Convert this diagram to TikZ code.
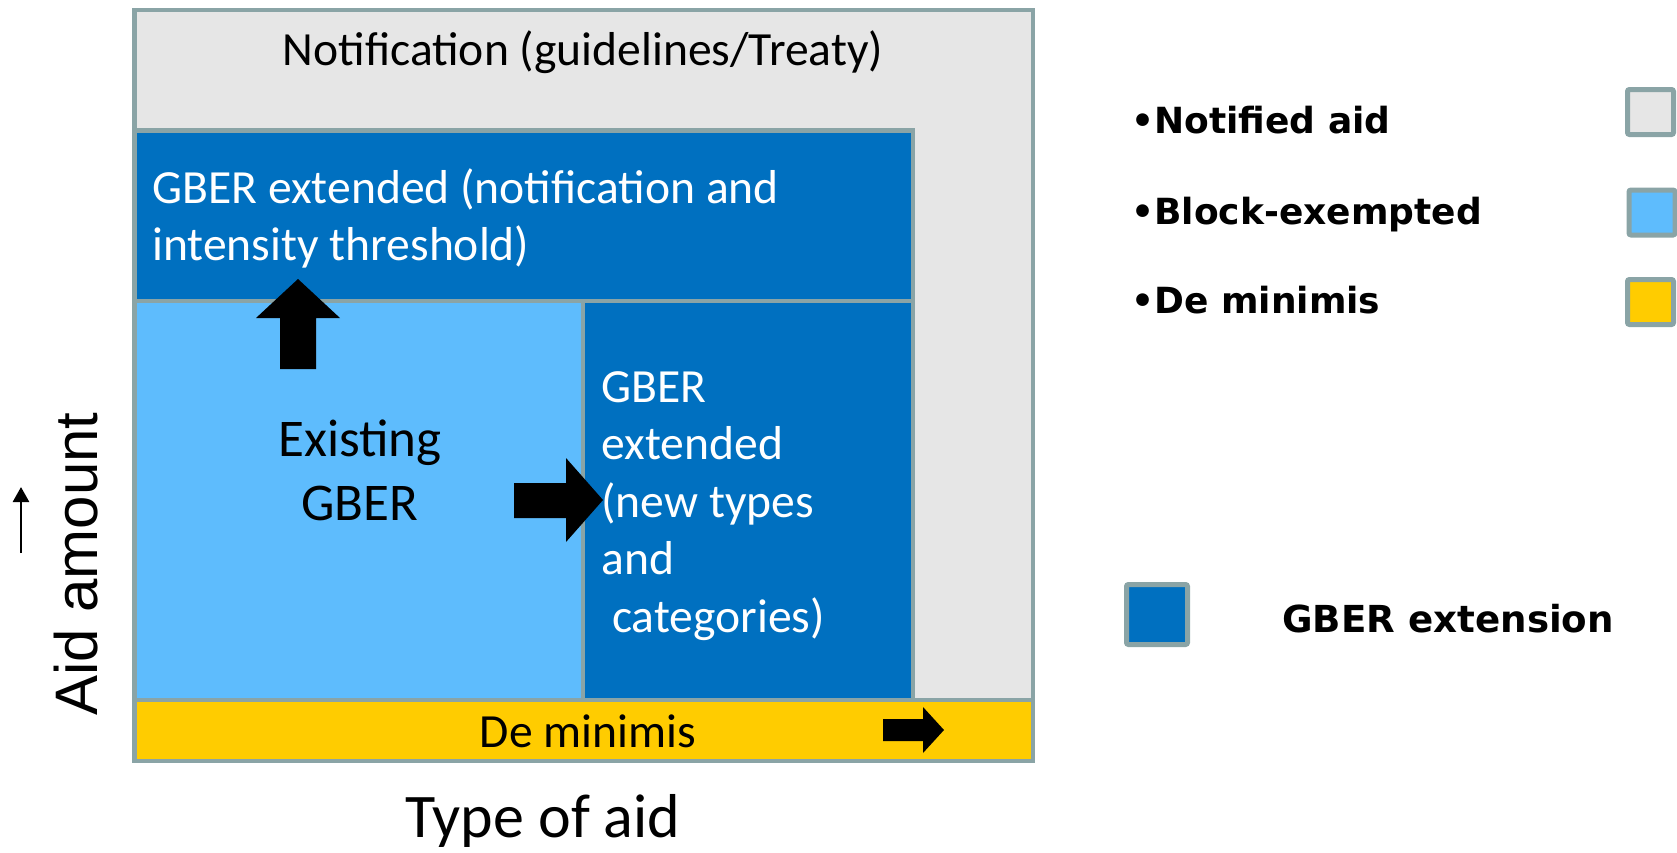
\documentclass[tikz,border=0pt]{standalone}
\usepackage{fontspec}
\setmainfont{Carlito}
\newfontfamily\legendfont{DejaVu Sans}
\newfontfamily\axisfont{Liberation Sans}
\usetikzlibrary{arrows.meta}
\definecolor{frame}{RGB}{138,164,166}
\definecolor{notified}{RGB}{230,230,230}
\definecolor{exempted}{RGB}{94,188,253}
\definecolor{extension}{RGB}{0,112,192}
\definecolor{minimis}{RGB}{255,204,0}

\begin{document}
\begin{tikzpicture}[x=0.5pt, y=-0.5pt,
                    area/.style={draw=frame, line width=2.25pt},
                    boxtext/.style={inner sep=0pt, font=\fontsize{23.8}{28.5}\selectfont},
                    bigtext/.style={inner sep=0pt, font=\fontsize{26.5}{32}\selectfont},
                    legendtext/.style={inner sep=0pt, anchor=base west, font=\legendfont\bfseries\fontsize{18}{22}\selectfont},
                    swatch/.style={draw=frame, line width=2.5pt, rounded corners=1pt, inner sep=0pt, minimum width=23pt, minimum height=22.5pt},
                    blockarrow/.style={fill=black}]
        \useasboundingbox (0,0) rectangle (1677,852);
        % regions
        \draw[area, fill=notified] (134.5,10) rectangle (1033,700);
        \draw[area, fill=extension] (134.5,130.5) rectangle (913,301);
        \draw[area, fill=exempted] (134.5,301) rectangle (583,700);
        \draw[area, fill=extension] (583,301) rectangle (913,700);
        \draw[area, fill=minimis] (134.5,700) rectangle (1033,761);
        % texts in the regions (base = last line)
        \node[boxtext, anchor=base] (notif) at (583,65) {Notification (guidelines/Treaty)};
        \node[boxtext, white, anchor=base west, align=left] (extup) at (152,260) {GBER extended (notification and\\intensity threshold)};
        \node[bigtext, anchor=base, align=center] (exist) at (360,520) {Existing\\GBER};
        \node[boxtext, white, anchor=base west, align=left, font=\fontsize{23.8}{28.75}\selectfont] (extright) at (601,632) {GBER\\extended\\(new types\\and\\~categories)};
        \node[boxtext, anchor=base] (demin) at (588,747) {De minimis};
        % block arrows
        \fill[blockarrow] (280,369) -- (280,318) -- (256,318) -- (298,279) -- (340,318) -- (316,318) -- (316,369) -- cycle;
        \fill[blockarrow] (514,483) -- (566,483) -- (566,458) -- (603,500) -- (566,542) -- (566,518) -- (514,518) -- cycle;
        \fill[blockarrow] (883,719) -- (923,719) -- (923,707) -- (944,730) -- (923,753) -- (923,741) -- (883,741) -- cycle;
        % axes
        \node[inner sep=0pt, anchor=base, font=\fontsize{31}{37}\selectfont] (type) at (543,837) {Type of aid};
        \node[inner sep=0pt, anchor=base, rotate=90, font=\axisfont\fontsize{30}{36}\selectfont] (amount) at (97,564) {Aid amount};
        \coordinate (amount0) at (21,553);
        \coordinate (amount1) at (21,487);
        \draw[line width=1.35pt, -{Triangle[length=7.5pt, width=8pt]}] (amount0) -- (amount1);
        % legend
        \node[legendtext] (lnot) at (1131,133) {•Notified aid};
        \node[legendtext] (lblock) at (1131,224) {•Block-exempted};
        \node[legendtext] (lmin) at (1131,313) {•De minimis};
        \node[swatch, fill=notified] (snot) at (1650.5,112) {};
        \node[swatch, fill=exempted] (sblock) at (1652,212.5) {};
        \node[swatch, fill=minimis] (smin) at (1650.5,302) {};
        \node[swatch, fill=extension, minimum width=30.5pt, minimum height=30pt] (sext) at (1157,614.5) {};
        \node[legendtext, font=\legendfont\bfseries\fontsize{18.6}{22}\selectfont] (lext) at (1282,632) {GBER extension};
\end{tikzpicture}
\end{document}
